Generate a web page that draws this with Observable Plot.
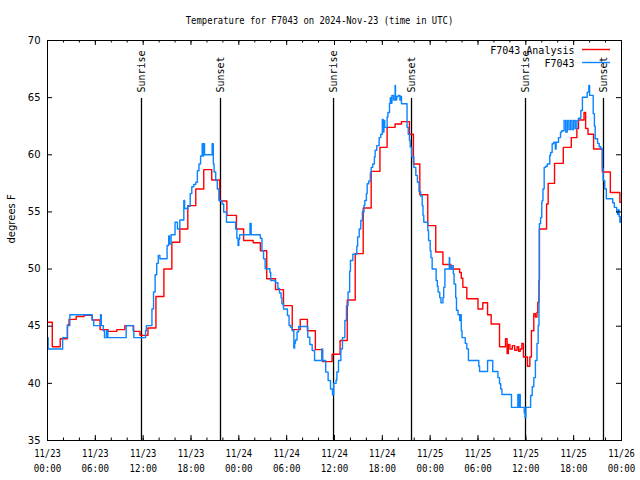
<!DOCTYPE html>
<html><head><meta charset="utf-8">
<script src="https://cdn.jsdelivr.net/npm/d3@7"></script>
<script src="https://cdn.jsdelivr.net/npm/@observablehq/plot@0.6"></script>
<style>body{margin:0;background:#fff} svg{display:block}</style>
</head><body><div id="chart"></div>
<script>
// ---------- data ----------
const startUTC = Date.UTC(2024, 10, 23); // 2024-11-23 00:00 UTC
const titleText = "Temperature for F7043 on 2024-Nov-23 (time in UTC)";
const yLabel = "degrees F";
const seriesNames = ["F7043 Analysis", "F7043"];
const seriesColors = ["#ff0000", "#0a84ff"];
// [hours since start, temperature F]
const analysisSeries = [[0,45.35],[0.6,43.2],[1.6,43.9],[2.5,45.1],[2.7,45.6],[3.6,45.85],[4.6,45.95],[5.6,45.55],[6.6,44.7],[7.6,44.55],[8.7,44.7],[9.7,45.05],[10.8,44.55],[11.6,44.2],[12.6,44.85],[13.6,47.6],[14.6,50.0],[15.6,52.35],[16.6,53.5],[17.6,55.55],[18.6,57.0],[19.6,58.7],[20.6,57.8],[21.6,55.95],[22.5,54.7],[23.7,53.5],[24.6,52.5],[25.8,52.3],[26.7,51.6],[27.5,49.15],[28.6,48.2],[29.6,46.8],[30.7,44.7],[31.7,45.6],[32.6,44.6],[33.6,42.95],[34.5,41.9],[35.7,42.55],[36.7,43.75],[37.6,47.3],[38.6,51.35],[39.6,55.35],[40.6,58.55],[41.7,60.65],[42.6,62.4],[43.6,62.7],[44.4,62.9],[45.4,61.8],[45.9,59.2],[46.7,56.5],[47.7,53.8],[48.7,51.5],[49.6,50.4],[50.6,50.0],[51.7,49.7],[51.9,49.2],[52.1,48.4],[52.6,47.4],[54.0,46.5],[54.6,47.05],[55.2,46.0],[55.65,45.2],[56.7,43.2],[57.45,43.9],[57.65,42.6],[57.8,43.4],[58.0,43.0],[58.3,43.3],[58.6,42.9],[58.9,43.2],[59.1,42.8],[59.3,43.0],[59.5,43.5],[59.7,42.3],[60.2,41.5],[60.5,42.3],[60.7,44.6],[61.0,46.1],[61.2,45.8],[61.4,46.2],[61.5,47.1],[61.65,49.0],[61.7,53.5],[62.6,55.7],[62.8,57.5],[63.6,59.25],[64.7,60.65],[65.7,61.5],[66.4,62.3],[66.6,63.05],[67.3,63.7],[67.5,62.3],[67.8,61.8],[68.5,60.5],[69.6,58.5],[70.6,56.7],[71.8,55.85],[72,55.85]];
const stationSeries = [[0,44.0],[0.08,43.0],[1.9,44.0],[2.5,45.05],[2.8,46.0],[5.6,45.55],[5.8,45.05],[6.65,46.0],[6.75,45.05],[7.0,44.6],[7.15,44.0],[7.4,44.6],[7.57,44.0],[9.87,45.05],[10.75,44.6],[10.83,44.0],[12.3,44.6],[12.4,45.05],[13.1,46.5],[13.3,48.0],[13.5,49.5],[13.7,50.5],[13.9,51.2],[14.1,50.9],[15.0,52.06],[15.2,52.9],[15.3,52.2],[15.5,53.0],[16.0,54.1],[16.3,53.5],[16.6,54.3],[17.1,56.0],[17.2,55.3],[17.6,55.5],[17.9,56.6],[18.1,57.2],[18.35,57.4],[18.6,57.6],[18.8,58.6],[19.0,59.2],[19.2,59.9],[19.4,60.96],[19.55,59.9],[19.6,60.96],[19.7,60.0],[20.65,60.96],[20.8,59.2],[20.9,58.5],[21.1,57.75],[21.3,57.0],[21.5,56.0],[21.9,55.7],[22.1,55.0],[22.45,54.1],[23.6,53.5],[23.75,52.7],[23.9,52.06],[24.0,52.6],[24.1,53.0],[25.4,54.0],[25.55,53.0],[26.7,52.7],[26.9,51.6],[27.1,50.9],[27.3,50.03],[27.9,49.7],[28.0,49.0],[28.6,48.8],[28.9,48.3],[29.1,47.9],[29.3,47.5],[29.4,46.96],[29.6,46.5],[30.1,45.94],[30.3,45.06],[30.5,44.9],[30.7,44.6],[30.9,43.08],[31.0,43.5],[31.1,43.8],[31.3,44.5],[31.5,44.98],[32.65,44.04],[32.9,43.4],[33.2,42.88],[33.5,42.0],[34.4,43.0],[34.5,42.0],[34.9,40.98],[35.2,40.25],[35.5,39.5],[35.75,39.0],[35.9,40.0],[36.2,40.3],[36.3,41.0],[36.5,42.0],[36.8,43.0],[37.0,44.0],[37.3,45.5],[37.5,46.8],[37.7,48.0],[37.9,49.8],[38.0,50.75],[38.3,51.3],[38.8,52.0],[38.9,52.8],[39.1,53.5],[39.3,54.25],[39.5,55.0],[39.7,55.56],[39.8,56.0],[40.0,56.6],[40.1,57.46],[40.3,57.7],[40.5,58.4],[40.6,58.9],[40.8,59.2],[41.0,59.8],[41.1,60.4],[41.3,60.8],[41.6,61.5],[41.8,61.8],[42.0,63.1],[42.1,62.0],[42.2,63.0],[42.3,62.4],[42.6,63.3],[42.7,63.7],[42.9,64.5],[43.0,65.0],[43.1,64.5],[43.2,65.2],[43.4,64.8],[43.6,66.06],[43.65,64.8],[43.8,65.1],[44.0,65.2],[44.2,64.8],[44.3,65.1],[44.4,64.46],[45.1,62.4],[45.25,61.8],[45.4,61.25],[45.5,60.67],[45.7,59.8],[45.95,58.9],[46.2,58.2],[46.4,57.6],[46.6,56.8],[46.8,56.4],[47.0,55.56],[47.1,54.7],[47.2,54.1],[47.7,53.4],[47.8,52.5],[48.0,51.6],[48.1,51.0],[48.25,50.0],[48.75,49.0],[48.9,48.5],[49.0,47.98],[49.2,47.5],[49.35,47.05],[49.6,47.5],[49.7,48.4],[49.85,50.0],[50.4,51.0],[50.45,50.0],[50.7,50.3],[50.9,49.6],[51.0,48.7],[51.2,47.5],[51.3,46.4],[51.5,46.0],[51.7,45.5],[51.8,46.0],[51.9,44.6],[52.0,44.0],[52.4,43.5],[52.6,43.0],[52.8,42.0],[54.1,41.5],[54.2,41.04],[55.2,42.0],[55.85,41.04],[56.5,40.5],[56.7,39.97],[56.85,39.5],[57.0,39.03],[58.2,37.9],[59.0,39.03],[59.1,37.9],[59.2,39.03],[59.3,37.9],[59.8,37.4],[59.9,37.0],[60.0,37.9],[60.6,38.94],[60.8,39.7],[61.0,40.5],[61.2,42.0],[61.4,43.5],[61.55,45.06],[61.65,49.0],[61.7,53.96],[61.85,54.5],[62.0,55.85],[62.05,56.0],[62.15,57.0],[62.3,58.9],[62.5,59.0],[62.7,59.2],[63.0,59.94],[63.1,60.2],[63.3,60.96],[63.5,61.1],[63.7,60.5],[63.8,61.1],[64.1,61.5],[64.35,61.98],[64.5,62.1],[64.8,63.0],[65.0,62.0],[65.2,63.0],[65.4,62.2],[65.6,63.0],[65.8,62.2],[66.0,63.0],[66.2,62.3],[66.4,63.0],[66.6,63.2],[66.9,63.87],[67.1,65.04],[67.7,65.48],[67.9,66.06],[68.0,65.2],[68.45,63.6],[68.6,62.5],[68.7,61.4],[69.0,61.0],[69.2,60.7],[69.4,60.5],[69.6,58.8],[69.7,57.75],[69.9,57.0],[70.1,56.15],[70.9,55.8],[71.1,55.4],[71.4,55.0],[71.5,54.8],[71.6,55.2],[71.7,54.6],[71.8,54.1],[71.95,54.6],[72,54.6]];
const sunHours = [11.79, 21.7, 35.88, 45.66, 59.96, 69.74];
const sunLabels = ["Sunrise", "Sunset", "Sunrise", "Sunset", "Sunrise", "Sunset"];
const yTicks = [35, 40, 45, 50, 55, 60, 65, 70];
const xMajorHours = [0, 6, 12, 18, 24, 30, 36, 42, 48, 54, 60, 66, 72];
const xMinorHours = d3.range(0, 73, 2);

// ---------- build ----------
const toDate = h => new Date(startUTC + h * 3600000);
const rows = (s, name) => s.map(([h, t]) => ({time: toDate(h), temp: t, name}));
const analysis = rows(analysisSeries, seriesNames[0]);
const station = rows(stationSeries, seriesNames[1]);
const sun = sunHours.map((h, i) => ({time: toDate(h), label: sunLabels[i]}));
const mono = "DejaVu Sans Mono";
const sans = "DejaVu Sans";

const chart = Plot.plot({
  width: 640, height: 480,
  marginLeft: 47, marginRight: 19, marginTop: 40, marginBottom: 40,
  style: {background: "white", color: "black", fontFamily: sans, overflow: "visible"},
  x: {type: "utc", domain: [toDate(0), toDate(72)], axis: null},
  y: {domain: [35, 70], axis: null},
  marks: [
    Plot.ruleX(sun, {x: "time", insetTop: 58, stroke: "black", strokeWidth: 1.3}),
    Plot.text(sun, {x: "time", text: "label", frameAnchor: "top", rotate: -90, textAnchor: "start",
      lineAnchor: "middle", dy: 52, dx: 0.5, fontFamily: mono, fontSize: 10, fill: "black"}),
    Plot.line(analysis, {x: "time", y: "temp", curve: "step-after", stroke: seriesColors[0], strokeWidth: 1.4}),
    Plot.line(station, {x: "time", y: "temp", curve: "step-after", stroke: seriesColors[1], strokeWidth: 1.4}),
    // inward ticks
    Plot.ruleY(yTicks, {y: d => d, insetRight: 569, stroke: "black"}),
    Plot.ruleY(yTicks, {y: d => d, insetLeft: 569, stroke: "black"}),
    Plot.ruleX(xMajorHours, {x: toDate, insetTop: 395, stroke: "black"}),
    Plot.ruleX(xMajorHours, {x: toDate, insetBottom: 395, stroke: "black"}),
    Plot.ruleX(xMinorHours, {x: toDate, insetTop: 397.5, stroke: "black"}),
    Plot.ruleX(xMinorHours, {x: toDate, insetBottom: 397.5, stroke: "black"}),
    Plot.frame({stroke: "black"}),
    // axis labels
    Plot.axisY({ticks: yTicks, tickSize: 0, tickPadding: 7, label: null, fontFamily: sans, fontSize: 10}),
    Plot.text(xMajorHours, {x: toDate, text: h => d3.utcFormat("%m/%d")(toDate(h)), frameAnchor: "bottom",
      lineAnchor: "middle", dy: 13, fontFamily: mono, fontSize: 10.5}),
    Plot.text(xMajorHours, {x: toDate, text: h => d3.utcFormat("%H:%M")(toDate(h)), frameAnchor: "bottom",
      lineAnchor: "middle", dy: 28, fontFamily: mono, fontSize: 10.5}),
    Plot.text([yLabel], {text: d => d, frameAnchor: "left", rotate: -90, dx: -36, dy: 3, fontFamily: sans, fontSize: 10}),
    Plot.text([titleText], {text: d => d, frameAnchor: "top", lineAnchor: "middle", dy: -20, dx: -15, fontFamily: mono, fontSize: 11}),
    // legend text
    Plot.text([seriesNames[0]], {text: d => d, frameAnchor: "top-right", textAnchor: "end", lineAnchor: "middle", dx: -47, dy: 10, fontFamily: mono, fontSize: 10}),
    Plot.text([seriesNames[1]], {text: d => d, frameAnchor: "top-right", textAnchor: "end", lineAnchor: "middle", dx: -47, dy: 23, fontFamily: mono, fontSize: 10})
  ]
});
document.getElementById("chart").appendChild(chart);

const svg = d3.select(chart);
function squeezeMatching(re, per) {
  svg.selectAll("text").each(function() {
    const s = this.textContent;
    if (re.test(s) && this.childElementCount === 0) {
      this.setAttribute("textLength", s.length * per);
      this.setAttribute("lengthAdjust", "spacingAndGlyphs");
    }
  });
}
squeezeMatching(/^Temperature/, 5.35);
squeezeMatching(/^\d\d\/\d\d$/, 5.3);
squeezeMatching(/^\d\d:\d\d$/, 5.5);

// legend sample lines
[49.5, 62.5].forEach((y, i) => {
  svg.append("line").attr("x1", 582).attr("x2", 610).attr("y1", y).attr("y2", y)
    .attr("stroke", seriesColors[i]).attr("stroke-width", 1.4);
});
</script></body></html>
